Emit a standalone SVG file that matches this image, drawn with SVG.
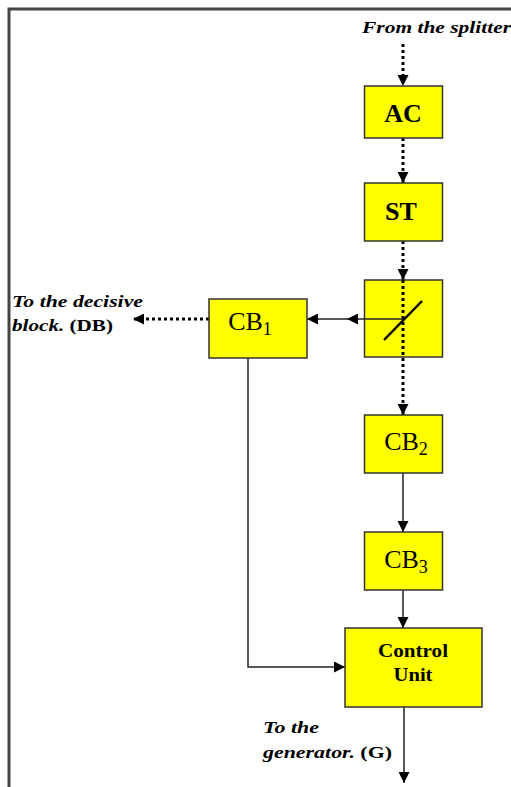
<svg xmlns="http://www.w3.org/2000/svg" width="511" height="787" viewBox="0 0 511 787">
<defs>
<marker id="ah" markerUnits="userSpaceOnUse" markerWidth="11" markerHeight="11" refX="11" refY="5.5" orient="auto">
<path d="M0,0 L11,5.5 L0,11 z" fill="#000"/>
</marker>
<style>
.box{fill:#ffff00;stroke:#333;stroke-width:1.5}
.solid{fill:none;stroke:#222;stroke-width:1.5}
.dot{fill:none;stroke:#000;stroke-width:3;stroke-dasharray:3,3}
.lbl{font-family:"Liberation Serif",serif;font-weight:bold;font-style:italic;font-size:16px;fill:#000}
.bt{font-family:"Liberation Serif",serif;font-weight:bold;fill:#000;text-anchor:middle}
.cb{font-family:"Liberation Serif",serif;font-size:26px;fill:#000;text-anchor:middle}
</style>
</defs>
<rect width="511" height="787" fill="#fff"/>
<path d="M9,787 V9 H511" fill="none" stroke="#444" stroke-width="3"/>
<text class="lbl" x="362" y="33" textLength="149" lengthAdjust="spacingAndGlyphs">From the splitter</text>
<text class="lbl" x="12" y="307" textLength="131" lengthAdjust="spacingAndGlyphs">To the decisive</text>
<text class="lbl" x="12" y="331" textLength="101" lengthAdjust="spacingAndGlyphs">block.<tspan font-style="normal" dx="4">(DB)</tspan></text>
<text class="lbl" x="263" y="733" textLength="56" lengthAdjust="spacingAndGlyphs">To the</text>
<text class="lbl" x="263" y="758" textLength="129" lengthAdjust="spacingAndGlyphs">generator.<tspan font-style="normal" dx="4">(G)</tspan></text>
<g id="connectors">
<line class="dot" x1="403" y1="44" x2="403" y2="86" marker-end="url(#ah)"/>
<line class="dot" x1="403" y1="138" x2="403" y2="183" marker-end="url(#ah)"/>
<line class="dot" x1="403" y1="241" x2="403" y2="280" marker-end="url(#ah)"/>
<line class="dot" x1="403" y1="280" x2="403" y2="415" marker-end="url(#ah)"/>
<line class="dot" x1="209" y1="319" x2="133" y2="319" marker-end="url(#ah)"/>
<line class="solid" x1="403" y1="473" x2="403" y2="532" marker-end="url(#ah)"/>
<line class="solid" x1="403" y1="590" x2="403" y2="628" marker-end="url(#ah)"/>
<polyline class="solid" points="248,358 248,667 345,667" marker-end="url(#ah)"/>
<line class="solid" x1="404" y1="707" x2="404" y2="783" marker-end="url(#ah)"/>
</g>
<g id="AC"><rect class="box" x="364.5" y="86" width="78" height="52"/><text class="bt" x="403" y="122" font-size="26">AC</text></g>
<g id="ST"><rect class="box" x="364.5" y="183" width="78" height="58"/><text class="bt" x="401" y="220" font-size="26">ST</text></g>
<g id="splitter"><rect class="box" x="364.5" y="280" width="78" height="77"/>
<line x1="403" y1="280" x2="403" y2="357" class="dot"/>
<line x1="384" y1="340" x2="422" y2="301" stroke="#000" stroke-width="2.5"/>
</g>
<g id="conn2">
<line class="solid" x1="403" y1="319" x2="347" y2="319" marker-end="url(#ah)"/>
<line class="solid" x1="347" y1="319" x2="307" y2="319" marker-end="url(#ah)"/>
</g>
<g id="CB1"><rect class="box" x="209" y="299" width="98" height="59"/><text class="cb" x="250" y="330">CB<tspan font-size="18" dy="5">1</tspan></text></g>
<g id="CB2"><rect class="box" x="364.5" y="415" width="78" height="58"/><text class="cb" x="406" y="450">CB<tspan font-size="18" dy="5">2</tspan></text></g>
<g id="CB3"><rect class="box" x="364.5" y="532" width="78" height="58"/><text class="cb" x="406" y="568">CB<tspan font-size="18" dy="5">3</tspan></text></g>
<g id="CU"><rect class="box" x="345" y="628" width="137" height="79"/>
<text class="bt" x="413" y="657" font-size="19" textLength="70" lengthAdjust="spacingAndGlyphs">Control</text>
<text class="bt" x="413" y="681" font-size="19" textLength="39" lengthAdjust="spacingAndGlyphs">Unit</text></g>
</svg>
